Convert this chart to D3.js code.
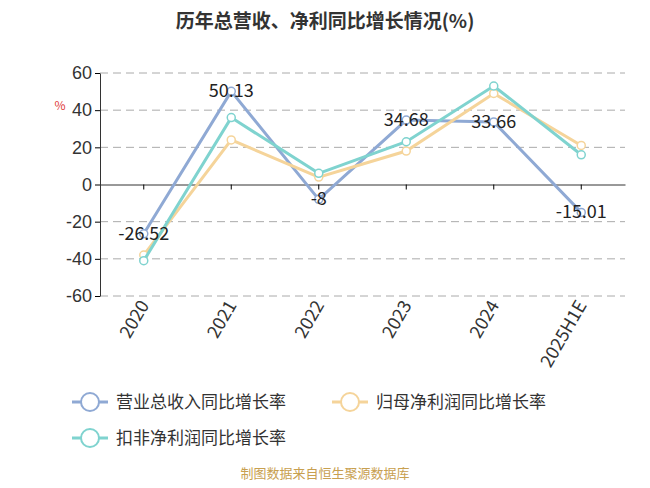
<!DOCTYPE html>
<html>
<head>
<meta charset="utf-8">
<script src="https://cdn.jsdelivr.net/npm/d3@7/dist/d3.min.js"></script>
<style>body{margin:0;background:#fff;font-family:"Noto Sans CJK SC","Noto Sans",sans-serif;}</style>
</head>
<body>
<svg id="c" width="650" height="488"></svg>
<script>
var categories = ["2020", "2021", "2022", "2023", "2024", "2025H1E"];
var revenue = [-26.52, 50.13, -8, 34.68, 33.66, -15.01];
var netProfit = [-38, 24, 4, 18, 49, 21];
var deductedProfit = [-41, 36, 6, 23, 53, 16];
var yTicks = [-60, -40, -20, 0, 20, 40, 60];

var svg = d3.select("#c");
var x = d3.scaleBand().domain(categories).range([100, 625]);
var y = d3.scaleLinear().domain([-60, 60]).range([296, 73]);
var cx = function (d, i) { return x(categories[i]) + x.bandwidth() / 2; };

svg.append("text").attr("x", 325).attr("y", 28).attr("text-anchor", "middle")
    .attr("font-size", 19).attr("font-weight", "bold").attr("fill", "#333")
    .text("历年总营收、净利同比增长情况(%)");
svg.append("text").attr("x", 60).attr("y", 110).attr("text-anchor", "middle")
    .attr("font-size", 12).attr("fill", "#e03c3c").text("%");

svg.selectAll(".grid").data(yTicks.filter(function (t) { return t !== 0; })).enter().append("line")
    .attr("x1", 100).attr("x2", 625).attr("y1", y).attr("y2", y)
    .attr("stroke", "#aaa").attr("stroke-dasharray", "8,5");

var ya = svg.append("g").attr("transform", "translate(100,0)")
    .call(d3.axisLeft(y).tickValues(yTicks).tickSize(5).tickSizeOuter(0).tickFormat(function (d) { return String(d); }));
ya.selectAll("text").attr("font-size", 18).attr("fill", "#333");
ya.select(".domain").attr("stroke", "#333");

var xa = svg.append("g").attr("transform", "translate(0," + y(0) + ")")
    .call(d3.axisBottom(x).tickSize(5).tickSizeOuter(0).tickFormat(""));
xa.select(".domain").attr("stroke", "#333");
svg.selectAll(".xl").data(categories).enter().append("text")
    .attr("transform", function (d) { return "translate(" + (x(d) + x.bandwidth() / 2 + 6) + ",305) rotate(-60)"; })
    .attr("text-anchor", "end").attr("font-size", 18).attr("fill", "#333").text(function (d) { return d; });

var series = [
    { name: "营业总收入同比增长率", data: revenue, color: "#8fa9d4" },
    { name: "归母净利润同比增长率", data: netProfit, color: "#f5d49a" },
    { name: "扣非净利润同比增长率", data: deductedProfit, color: "#7fd3cf" }
];
var line = d3.line().x(cx).y(function (d) { return y(d); });
series.forEach(function (s) {
    svg.append("path").datum(s.data).attr("d", line).attr("fill", "none")
        .attr("stroke", s.color).attr("stroke-width", 3);
    svg.selectAll(null).data(s.data).enter().append("circle")
        .attr("cx", cx).attr("cy", function (d) { return y(d); }).attr("r", 4)
        .attr("fill", "#fff").attr("stroke", s.color).attr("stroke-width", 1.5);
});
svg.selectAll(".lbl").data(revenue).enter().append("text")
    .attr("x", cx).attr("y", function (d) { return y(d) + 6; })
    .attr("text-anchor", "middle").attr("font-size", 18).attr("fill", "#222")
    .text(function (d) { return String(d); });

var legendPos = [[90, 402], [350, 402], [90, 438]];
series.forEach(function (s, i) {
    var g = svg.append("g").attr("transform", "translate(" + legendPos[i][0] + "," + legendPos[i][1] + ")");
    g.append("line").attr("x1", -18).attr("x2", 18).attr("stroke", s.color).attr("stroke-width", 3);
    g.append("circle").attr("r", 9).attr("fill", "#fff").attr("stroke", s.color).attr("stroke-width", 2);
    g.append("text").attr("x", 26).attr("y", 6).attr("font-size", 17).attr("fill", "#333").text(s.name);
});
svg.append("text").attr("x", 325).attr("y", 478).attr("text-anchor", "middle")
    .attr("font-size", 13).attr("fill", "#c8a050").text("制图数据来自恒生聚源数据库");
</script>
</body>
</html>
